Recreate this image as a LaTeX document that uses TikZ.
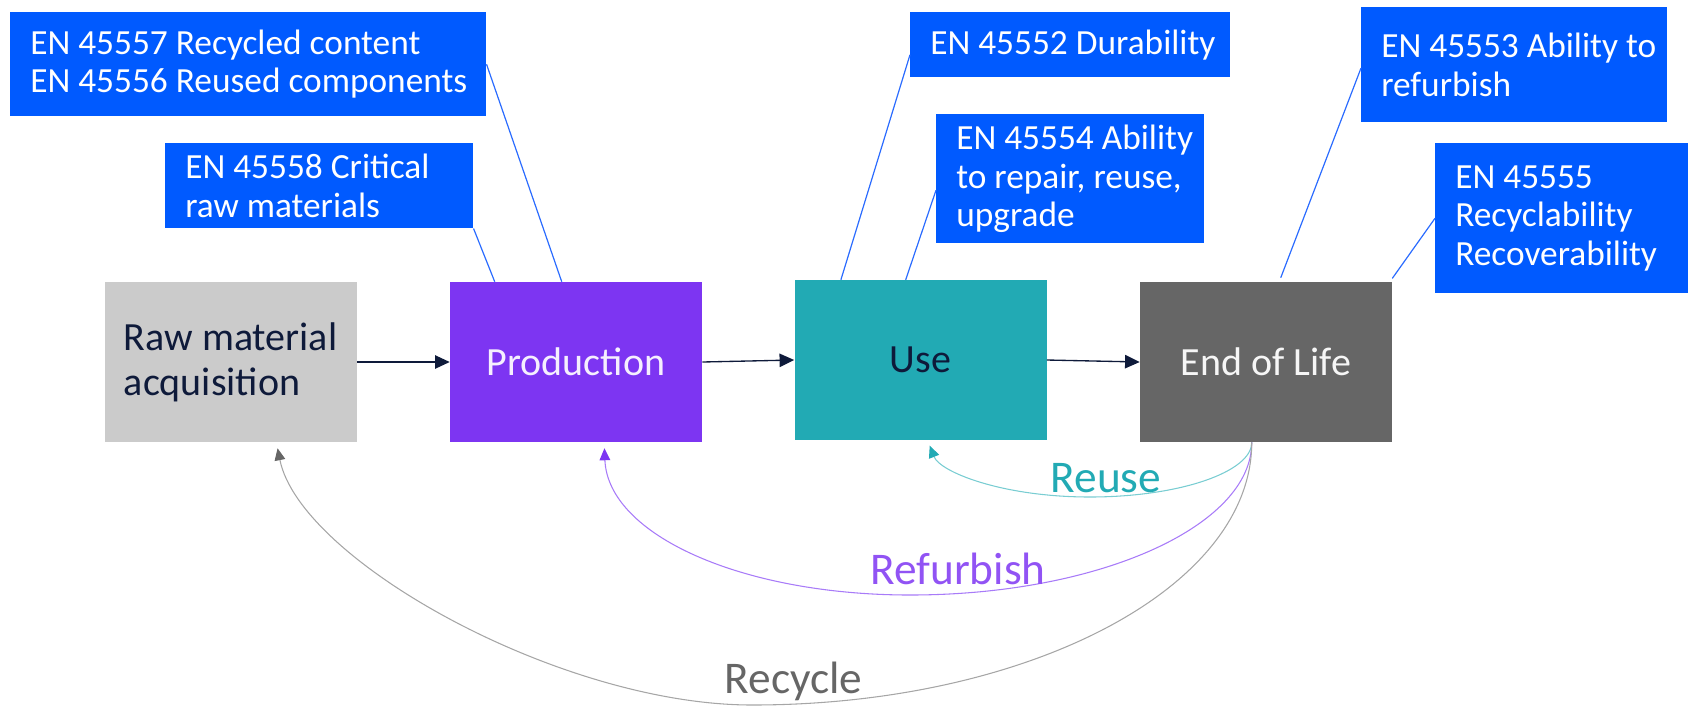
\documentclass[tikz,border=0pt]{standalone}
\usepackage{fontspec}
\setmainfont{Carlito}
\usetikzlibrary{arrows.meta}
\definecolor{cblue}{HTML}{005AFF}
\definecolor{lblue}{HTML}{2A6BFF}
\definecolor{rawgray}{HTML}{CBCBCB}
\definecolor{prodpurple}{HTML}{7D35F2}
\definecolor{useteal}{HTML}{22AAB4}
\definecolor{eolgray}{HTML}{666666}
\definecolor{navy}{HTML}{0E1A3A}
\definecolor{reuseline}{HTML}{79CDD2}
\definecolor{refline}{HTML}{A87BF8}
\definecolor{recline}{HTML}{A6A6A6}
\begin{document}
\begin{tikzpicture}[x=0.75pt,y=-0.75pt,
  callout/.style={fill=cblue, draw=none, inner sep=0pt, anchor=north west},
  ctext/.style={text=white, align=left, anchor=west, inner sep=0pt, font=\fontsize{26.5pt}{28.7pt}\selectfont},
  stage/.style={minimum width=189pt, minimum height=120pt, inner sep=0pt, font=\fontsize{30pt}{34pt}\selectfont, align=left},
  lead/.style={draw=lblue, line width=0.9pt},
  flow/.style={draw=navy, line width=1pt, -{Triangle[length=11pt,width=10pt]}},
  ret/.style={line width=0.8pt},
  retlabel/.style={anchor=base, inner sep=0pt, font=\fontsize{34pt}{40pt}\selectfont}]
\useasboundingbox (0,0) rectangle (1688,708);

% stages
\node[stage, fill=rawgray, text=navy] (raw) at (230.5,362) {Raw material\\acquisition};
\node[stage, fill=prodpurple, text=white!92!prodpurple] (prod) at (576,362) {Production};
\node[stage, fill=useteal, text=navy] (use) at (920.5,360) {Use};
\node[stage, fill=eolgray, text=white!94!eolgray] (eol) at (1266,362) {End of Life};

% flow arrows
\draw[flow] (raw.east) -- (prod.west);
\draw[flow] (prod.east) -- (use.west);
\draw[flow] (use.east) -- (eol.west);

% callouts
\node[callout, minimum width=357pt, minimum height=78pt] (A) at (10,12) {};
\node[ctext] (At) at ([xshift=15pt]A.west) {EN 45557 Recycled content\\EN 45556 Reused components};
\node[callout, minimum width=231pt, minimum height=63.75pt] (B) at (165,143) {};
\node[ctext] (Bt) at ([xshift=15pt]B.west) {EN 45558 Critical\\raw materials};
\node[callout, minimum width=240pt, minimum height=48.75pt] (C) at (910,12) {};
\node[ctext] (Ct) at ([xshift=15pt]C.west) {EN 45552 Durability};
\node[callout, minimum width=201pt, minimum height=96.75pt] (D) at (936,114) {};
\node[ctext] (Dt) at ([xshift=15pt]D.west) {EN 45554 Ability\\to repair, reuse,\\upgrade};
\node[callout, minimum width=229.5pt, minimum height=86.25pt] (E) at (1361,7) {};
\node[ctext] (Et) at ([xshift=15pt]E.west) {EN 45553 Ability to\\refurbish};
\node[callout, minimum width=189.75pt, minimum height=112.5pt] (F) at (1435,143) {};
\node[ctext] (Ft) at ([xshift=15pt]F.west) {EN 45555\\Recyclability\\Recoverability};

% leader lines
\draw[lead] (A.east) -- ([xshift=84pt]prod.north west);
\draw[lead] (B.south east) -- ([xshift=33.75pt]prod.north west);
\draw[lead] ([yshift=-7.5pt]C.west) -- ([xshift=35pt]use.north west);
\draw[lead] ([yshift=-8.6pt]D.west) -- ([xshift=83.6pt]use.north west);
\draw[lead] ([yshift=-2.5pt]E.west) -- ([xshift=105.75pt,yshift=3pt]eol.north west);
\draw[lead] (F.west) -- ([yshift=2.5pt]eol.north east);

% return loops
\coordinate (st) at ([xshift=84pt]eol.south west);
\coordinate (usein) at ([xshift=101.6pt,yshift=-4pt]use.south west);
\coordinate (prodin) at ([xshift=116pt,yshift=-4.5pt]prod.south west);
\coordinate (rawin) at ([xshift=130pt,yshift=-4.5pt]raw.south west);

\draw[ret, draw=reuseline, -{Triangle[length=9pt,width=8pt,color=useteal]}]
  (st) .. controls (1252,472) and (1179,497) .. (1090,497)
       .. controls (1002,497) and (940,472) .. (usein);
\draw[ret, draw=refline, -{Triangle[length=9pt,width=8pt,color=prodpurple]}]
  (st) .. controls (1252,526) and (1099,595) .. (910,595)
       .. controls (742,595) and (608,535) .. (prodin);
\draw[ret, draw=recline, -{Triangle[length=9pt,width=8pt,color=eolgray]}]
  (st) .. controls (1252,588) and (1028,705) .. (752,705)
       .. controls (560,705) and (300,560) .. (rawin);

\node[retlabel, text=useteal] (reuse) at (1106,492) {Reuse};
\node[retlabel, text=prodpurple!85!white] (refurb) at (958,584) {Refurbish};
\node[retlabel, text=eolgray] (recyc) at (793.5,693) {Recycle};
\end{tikzpicture}
\end{document}
